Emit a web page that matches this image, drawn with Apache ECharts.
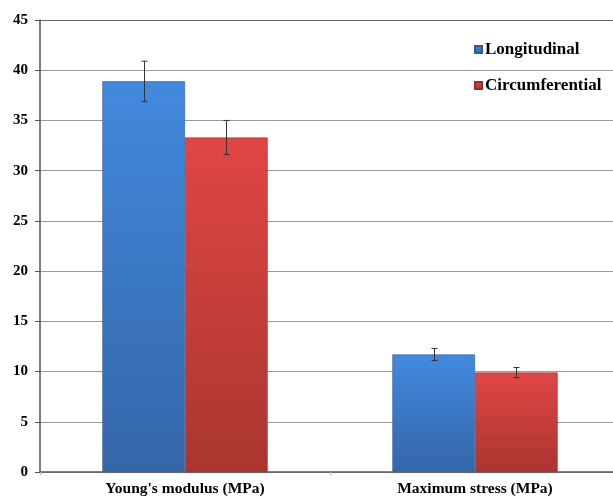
<!DOCTYPE html>
<html>
<head>
<meta charset="utf-8">
<script src="https://cdn.jsdelivr.net/npm/echarts@6/dist/echarts.min.js"></script>
<style>html,body{margin:0;padding:0;background:#fff;overflow:hidden;width:613px;height:498px}#c{width:620px;height:498px}</style>
</head>
<body>
<div id="c"></div>
<script>
var categories = ["Young's modulus (MPa)", "Maximum stress (MPa)"];
var seriesNames = ["Longitudinal", "Circumferential"];
var longitudinal = [38.9, 11.7];
var longitudinalErr = [2.0, 0.6];
var circumferential = [33.3, 9.9];
var circumferentialErr = [1.7, 0.5];
var yTicks = [0, 5, 10, 15, 20, 25, 30, 35, 40, 45];

var chart = echarts.init(document.getElementById('c'));
var font = '"Liberation Serif", "Times New Roman", serif';
var CAT_GAP = 0.43;

function grad(top, bottom) {
  return new echarts.graphic.LinearGradient(0, 0, 0, 1, [
    {offset: 0, color: top}, {offset: 1, color: bottom}
  ]);
}

function errSeries(vals, errs, idx) {
  return {
    type: 'custom',
    name: seriesNames[idx] + ' err',
    silent: true,
    z: 5,
    data: vals.map(function (v, i) { return [i, v - errs[i], v + errs[i]]; }),
    renderItem: function (params, api) {
      var band = api.size([1, 0])[0];
      var bw = band * (1 - CAT_GAP) / 2;
      var off = (idx === 0 ? -0.5 : 0.5) * bw;
      var lo = api.coord([api.value(0), api.value(1)]);
      var hi = api.coord([api.value(0), api.value(2)]);
      var x = Math.round(lo[0] + off) + 0.5;
      var cap = 3;
      var st = {stroke: '#333', lineWidth: 1};
      return {
        type: 'group',
        children: [
          {type: 'line', shape: {x1: x, y1: lo[1], x2: x, y2: hi[1]}, style: st},
          {type: 'line', shape: {x1: x - cap, y1: lo[1], x2: x + cap, y2: lo[1]}, style: st},
          {type: 'line', shape: {x1: x - cap, y1: hi[1], x2: x + cap, y2: hi[1]}, style: st}
        ]
      };
    }
  };
}

chart.setOption({
  animation: false,
  backgroundColor: '#fff',
  color: ['#3a78cc', '#cc3a3a'],
  grid: {left: 40, top: 20, right: 0, bottom: 26},
  legend: {
    data: seriesNames,
    orient: 'vertical',
    left: 469,
    top: 36,
    itemGap: 19,
    itemWidth: 7,
    itemHeight: 7,
    icon: 'rect',
    textStyle: {fontFamily: font, fontWeight: 'bold', fontSize: 17, color: '#000', padding: [0, 0, 0, -2]}
  },
  xAxis: {
    type: 'category',
    data: categories,
    axisLine: {lineStyle: {color: '#555', width: 1.5}},
    axisTick: {show: true, alignWithLabel: false, length: 3, lineStyle: {color: '#bbb'}},
    axisLabel: {fontFamily: font, fontWeight: 'bold', fontSize: 15.5, color: '#000', margin: 9}
  },
  yAxis: {
    type: 'value',
    min: 0, max: 45, interval: 5,
    axisLine: {show: true, lineStyle: {color: '#555', width: 1.5}},
    axisTick: {show: true, length: 5, lineStyle: {color: '#555'}},
    axisLabel: {fontFamily: font, fontWeight: 'bold', fontSize: 15, color: '#000', margin: 12,
      formatter: function (v) { return yTicks.indexOf(v) >= 0 ? String(v) : ''; }},
    splitLine: {show: true, lineStyle: {color: ['#999','#999','#999','#999','#999','#999','#999','#999','#999','#666'], width: 1}}
  },
  series: [
    {
      name: seriesNames[0], type: 'bar', data: longitudinal,
      barGap: '0%', barCategoryGap: '43%',
      itemStyle: {color: grad('#4289de', '#3466a8'), borderColor: '#2f5d9a', borderWidth: 0.6}
    },
    {
      name: seriesNames[1], type: 'bar', data: circumferential,
      barGap: '0%', barCategoryGap: '43%',
      itemStyle: {color: grad('#e04644', '#aa3530'), borderColor: '#9c2e2e', borderWidth: 0.6}
    },
    errSeries(longitudinal, longitudinalErr, 0),
    errSeries(circumferential, circumferentialErr, 1)
  ]
});
</script>
</body>
</html>
